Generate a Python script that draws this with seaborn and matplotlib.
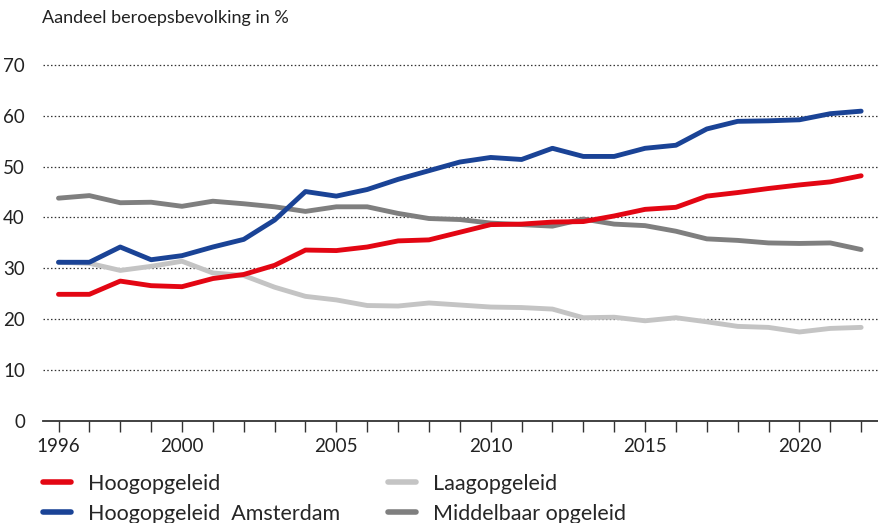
import numpy as np
import pandas as pd
import matplotlib
matplotlib.use("Agg")
import matplotlib.pyplot as plt
from matplotlib.lines import Line2D
import seaborn as sns

years = list(range(1996, 2023))

hoog = [24.9, 24.9, 27.5, 26.6, 26.4, 28.0, 28.8, 30.6, 33.6, 33.5, 34.2, 35.4, 35.6,
        37.1, 38.6, 38.7, 39.1, 39.2, 40.3, 41.6, 42.0, 44.2, 44.9, 45.7, 46.4, 47.0, 48.2]
hoog_ams = [31.2, 31.2, 34.2, 31.7, 32.5, 34.2, 35.7, 39.5, 45.1, 44.2, 45.5, 47.5, 49.2,
            50.9, 51.8, 51.4, 53.6, 52.0, 52.0, 53.6, 54.2, 57.4, 58.9, 59.0, 59.2, 60.4, 60.9]
laag = [31.2, 31.0, 29.6, 30.4, 31.4, 29.1, 28.6, 26.3, 24.5, 23.8, 22.7, 22.6, 23.2,
        22.8, 22.4, 22.3, 22.0, 20.3, 20.4, 19.7, 20.3, 19.5, 18.6, 18.4, 17.5, 18.2, 18.4]
middel = [43.8, 44.3, 42.9, 43.0, 42.2, 43.2, 42.7, 42.1, 41.2, 42.1, 42.1, 40.8, 39.8,
          39.6, 38.9, 38.6, 38.3, 39.7, 38.7, 38.4, 37.3, 35.8, 35.5, 35.0, 34.9, 35.0, 33.7]

labels = ["Hoogopgeleid", "Hoogopgeleid  Amsterdam", "Laagopgeleid", "Middelbaar opgeleid"]
colors = ["#e30613", "#1a4396", "#c4c4c4", "#7f7f7f"]
xticks = [1996, 2000, 2005, 2010, 2015, 2020]

df = pd.DataFrame({
    "jaar": years * 4,
    "waarde": hoog + hoog_ams + laag + middel,
    "groep": [labels[0]] * 27 + [labels[1]] * 27 + [labels[2]] * 27 + [labels[3]] * 27,
})

sns.set_style("white")
plt.rcParams["font.family"] = ["Lato", "DejaVu Sans"]

fig = plt.figure(figsize=(8.79, 5.23), dpi=100)
ax = fig.add_axes([0.049, 0.195, 0.950, 0.681])

# draw order: grey lines underneath, blue on top
draw_order = [labels[2], labels[3], labels[0], labels[1]]
sns.lineplot(data=df, x="jaar", y="waarde", hue="groep", hue_order=draw_order,
             palette=dict(zip(labels, colors)), linewidth=3.5, legend=False, ax=ax,
             solid_capstyle="round")

ax.set_xlim(1995.5, 2022.55)
ax.set_ylim(0, 70)
ax.set_yticks(range(0, 71, 10))
for v in range(10, 71, 10):
    ax.axhline(v, color="#333333", linestyle=(0, (1.2, 1.8)), linewidth=0.9, zorder=0,
               clip_on=False)

ax.set_xticks(years)
ax.set_xticklabels([str(y) if y in xticks else "" for y in years])
for s in ["top", "right", "left"]:
    ax.spines[s].set_visible(False)
ax.spines["bottom"].set_color("#333333")
ax.spines["bottom"].set_linewidth(1.3)
ax.tick_params(axis="x", direction="out", length=8, width=1, color="#333333",
               labelsize=13.5, pad=4, labelcolor="#222222", bottom=True)
ax.tick_params(axis="y", length=0, labelsize=13.5, pad=13, labelcolor="#222222")
ax.set_xlabel("")
ax.set_ylabel("")

fig.text(0.048, 0.966, "Aandeel beroepsbevolking in %", fontsize=13, color="#222222",
         va="center", ha="left")

handles = [Line2D([0], [0], color=c, linewidth=4, solid_capstyle="round") for c in colors]
fig.legend(handles, labels, ncol=2, loc="upper left", bbox_to_anchor=(0.049, 0.094),
           frameon=False, fontsize=15.5, handlelength=1.3, handletextpad=0.8,
           columnspacing=2.2, labelspacing=0.45, borderaxespad=0, borderpad=0)

fig.savefig("out.png", dpi=100)
